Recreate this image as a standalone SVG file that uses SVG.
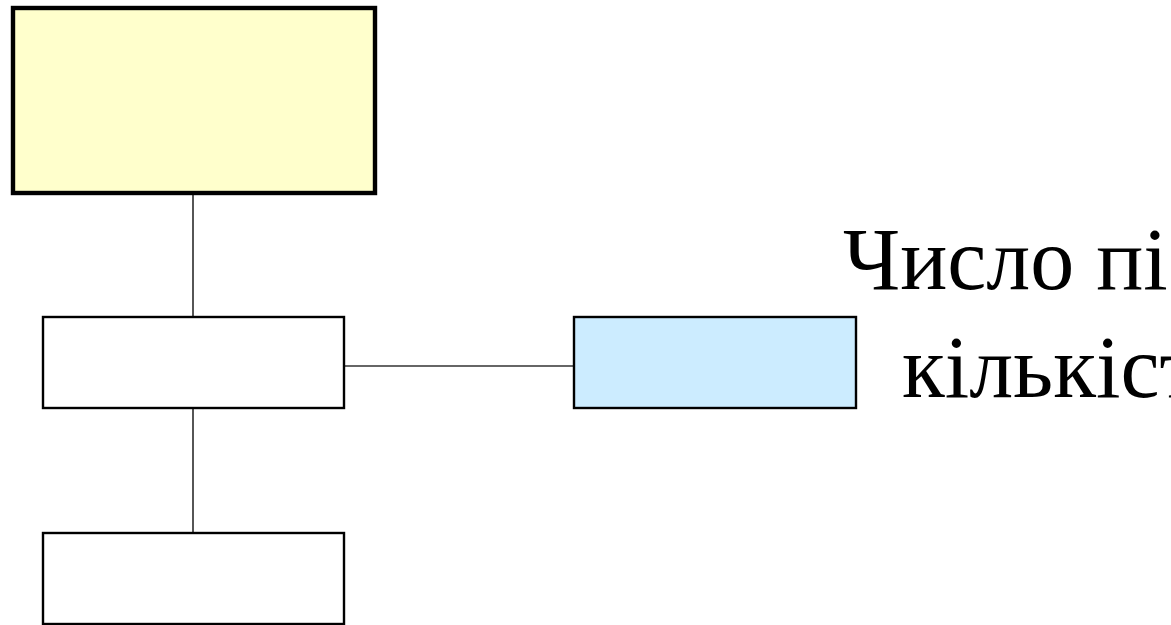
<svg xmlns="http://www.w3.org/2000/svg" width="1171" height="625" viewBox="0 0 1171 625">
  <style>
    .box { stroke: #000; stroke-width: 2.4; }
    .top { stroke: #000; stroke-width: 4.4; fill: #FFFFCC; }
    .plain { fill: #FFFFFF; }
    .blue { fill: #CCECFF; }
    .link { stroke: #1e1e1e; stroke-width: 1.5; fill: none; }
    .label { font-family: "Liberation Serif", "Times New Roman", serif; font-size: 88px; fill: #000; }
  </style>
  <rect width="1171" height="625" fill="#FFFFFF"/>

  <!-- connectors -->
  <g id="connectors">
    <line class="link" x1="193" y1="195" x2="193" y2="316"/>
    <line class="link" x1="193" y1="409" x2="193" y2="532"/>
    <line class="link" x1="345" y1="366" x2="573" y2="366" style="stroke:#333"/>
  </g>

  <!-- nodes -->
  <g id="node-root">
    <rect class="top" x="13" y="8" width="362" height="185"/>
  </g>
  <g id="node-middle">
    <rect class="box plain" x="43" y="317" width="301" height="91"/>
  </g>
  <g id="node-bottom">
    <rect class="box plain" x="43" y="533" width="301" height="91"/>
  </g>
  <g id="node-side">
    <rect class="box blue" x="574" y="317" width="282" height="91"/>
  </g>

  <!-- caption, running past the right edge -->
  <g id="caption">
    <text class="label" x="843" y="289">Число пі</text>
    <text class="label" x="902" y="397">кількіст</text>
  </g>
</svg>
